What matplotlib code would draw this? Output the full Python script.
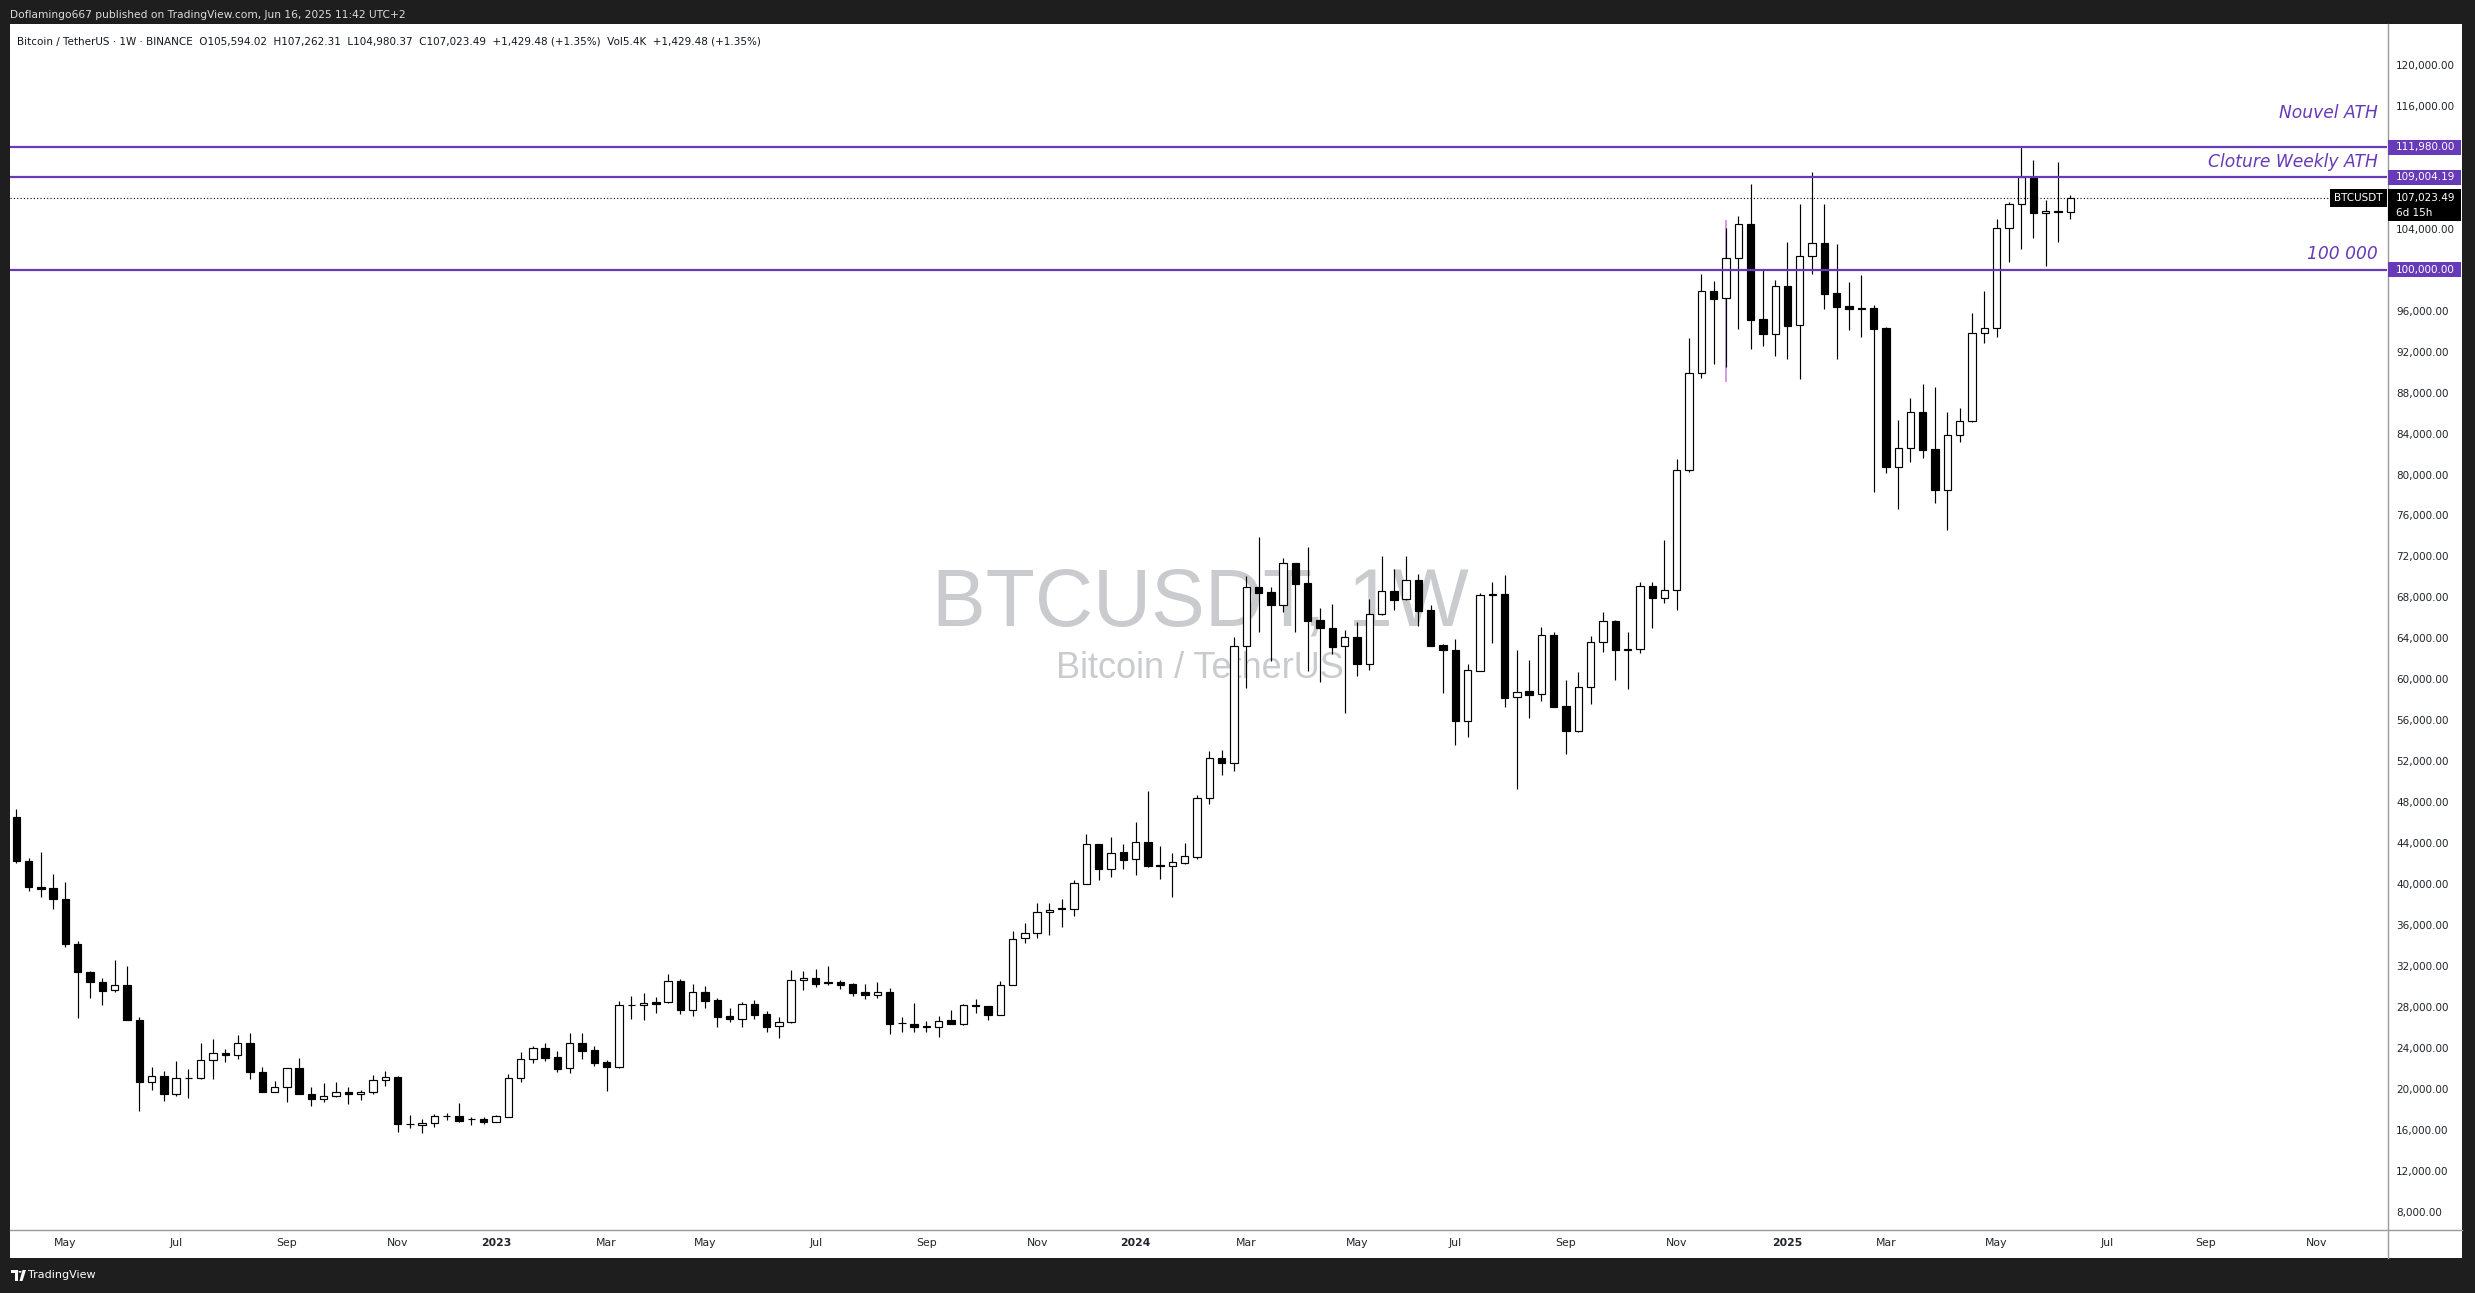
"""
BTCUSDT 1W - TradingView snapshot, Nouvel ATH / Cloture Weekly ATH / 100 000
"""
import numpy as np
import matplotlib
matplotlib.use("Agg")
import matplotlib.pyplot as plt
from matplotlib.patches import Rectangle, Polygon, Circle
from matplotlib.lines import Line2D

W, H = 2475, 1293
DARK = "#1e1e1e"
PURPLE = "#673ab7"
TEXT = "#131722"

# weekly bars, bar 0 = week of 2022-04-04
first_week = "2022-04-04"

opens = [
    46520, 42288, 39749, 39586, 38578, 34183, 31449, 30473, 29627, 30115,
    26762, 20707, 21261, 19471, 21050, 21034, 22791, 23475, 23345, 24451,
    21684, 19731, 20154, 22043, 19536, 18983, 19276, 19666, 19471, 19731,
    20837, 21164, 16560, 16450, 16639, 17322, 17322, 17040, 17062, 16801,
    17289, 21032, 22888, 23962, 23083, 22009, 24450, 23800, 22628, 22172,
    28161, 28161, 28487, 28454, 30505, 27738, 29431, 28650, 27087, 26859,
    28259, 27283, 26110, 26501, 30602, 30798, 30376, 30408, 30213, 29431,
    29203, 29431, 26405, 26307, 26079, 26014, 26698, 26372, 28162, 28065,
    27250, 30115, 34705, 35193, 37243, 37602, 37602, 40042, 43884, 41508,
    43103, 42419, 44079, 41768, 41736, 42093, 42679, 48376, 52282, 51795,
    63220, 68981, 68494, 67289, 71325, 69372, 65759, 64977, 63220, 64099,
    61527, 66345, 68591, 67810, 69665, 66768, 63318, 62829, 55961, 60844,
    68266, 68298, 58240, 58826, 58533, 64294, 57361, 54985, 59217, 63611,
    65694, 62900, 62927, 69080, 67950, 68750, 80409, 89881, 97888, 97205,
    101111, 104431, 95154, 93689, 98377, 94569, 101306, 102608, 97725, 96456,
    96196, 96228, 94276, 80767, 82557, 86072, 82460, 78456, 83827, 85194,
    93787, 94276, 104040, 106384, 109004.19, 105570, 105733, 105594.02,
]
highs = [
    47334, 42516, 43135, 40987, 40205, 34444, 31500, 30798, 32556, 32003,
    27055, 22140, 21750, 22726, 21945, 24483, 24874, 23898, 25265, 25460,
    22140, 20772, 22050, 23019, 20186, 20544, 20675, 20186, 19894, 21359,
    21750, 21261, 17453, 17062, 17582, 17680, 18624, 17257, 17224, 17420,
    21423, 23572, 24158, 24450, 23702, 25427, 25427, 24190, 22790, 28552,
    29072, 29366, 28975, 31221, 30700, 30245, 30049, 28877, 27868, 28487,
    28682, 27608, 27022, 31612, 31481, 31709, 32003, 30636, 30343, 30245,
    30408, 29822, 27023, 28390, 26632, 27120, 27706, 28260, 28781, 28130,
    30506, 35420, 36201, 38154, 38154, 38544, 40367, 44893, 43949, 44567,
    43884, 46065, 49092, 43688, 43037, 44014, 48701, 53000, 53097, 64131,
    70088, 73864, 68981, 71813, 71400, 72887, 66931, 67354, 64815, 65564,
    67842, 72041, 70739, 72041, 70251, 67289, 63415, 63936, 61462, 68396,
    69503, 70186, 62862, 61886, 65075, 64587, 59932, 60681, 64229, 66573,
    65750, 64620, 69503, 69500, 73620, 81516, 93299, 99581, 98897, 104073,
    105245, 108369, 99972, 98995, 102706, 106417, 109541, 106417, 102511, 98800,
    99483, 96521, 94373, 85324, 87440, 88807, 88514, 86072, 86462, 95740,
    97888, 104952, 106612, 111980, 110680, 106774, 110485, 107262.31,
]
lows = [
    42093, 39359, 38773, 37601, 33890, 26958, 28910, 28227, 29496, 26700,
    17876, 19927, 18853, 19341, 19146, 21000, 21001, 22661, 22954, 21001,
    19700, 19700, 18755, 19500, 18364, 18755, 19250, 18494, 18950, 19471,
    20316, 15826, 16151, 15728, 16313, 16964, 16769, 16508, 16606, 16790,
    17250, 20707, 22563, 22758, 21684, 21586, 22953, 22270, 19828, 22075,
    26827, 26729, 27445, 28400, 27348, 27152, 27933, 26078, 26566, 26078,
    26794, 25590, 25004, 26450, 29691, 29984, 30179, 29789, 29073, 28780,
    28910, 25363, 25591, 25591, 25591, 25103, 26350, 26274, 27446, 26763,
    27200, 30100, 34282, 34770, 35063, 35843, 36918, 40000, 40433, 40726,
    41508, 40922, 41703, 40531, 38774, 41996, 42484, 47855, 50656, 51079,
    59184, 64652, 61820, 66540, 64652, 60843, 59769, 62504, 56743, 60355,
    60941, 66247, 66801, 67750, 65238, 63250, 58631, 53617, 54399, 60778,
    63578, 57328, 49256, 56255, 57914, 57300, 52739, 54888, 57621, 62699,
    59932, 59087, 62601, 65050, 67450, 66800, 80279, 89458, 90825, 90532,
    94243, 92290, 92583, 91606, 91313, 89360, 99613, 96196, 91313, 94145,
    93462, 78326, 80116, 76666, 81255, 81646, 77252, 74582, 83208, 85150,
    92876, 93462, 100785, 102055, 103129, 100395, 102739, 104980.37,
]
closes = [
    42288, 39749, 39554, 38578, 34183, 31449, 30473, 29594, 30115, 26762,
    20707, 21261, 19471, 21066, 21034, 22791, 23475, 23345, 24451, 21684,
    19731, 20154, 22010, 19536, 18983, 19276, 19666, 19471, 19731, 20837,
    21131, 16542, 16575, 16673, 17322, 17354, 16866, 17029, 16801, 17322,
    21032, 22888, 23962, 23051, 21976, 24450, 23735, 22563, 22172, 28161,
    28150, 28357, 28324, 30505, 27738, 29431, 28617, 27054, 26859, 28259,
    27250, 26078, 26501, 30602, 30798, 30277, 30360, 30180, 29398, 29203,
    29431, 26372, 26390, 26079, 26070, 26665, 26372, 28162, 28130, 27250,
    30115, 34672, 35193, 37243, 37504, 37590, 40075, 43884, 41508, 43070,
    42386, 44079, 41768, 41760, 42126, 42712, 48376, 52282, 51795, 63220,
    68981, 68461, 67289, 71325, 69340, 65726, 64977, 63187, 64099, 61527,
    66345, 68591, 67777, 69665, 66703, 63285, 62829, 55961, 60876, 68200,
    68250, 58207, 58793, 58500, 64294, 57328, 54985, 59217, 63611, 65661,
    62862, 62927, 69080, 67950, 68750, 80409, 89881, 97888, 97172, 101111,
    104431, 95122, 93689, 98377, 94536, 101306, 102576, 97660, 96391, 96130,
    96163, 94243, 80767, 82557, 86072, 82427, 78456, 83827, 85194, 93787,
    94276, 104040, 106384, 109004.19, 105570, 105700, 105594.02, 107023.49,
]

# horizontal levels drawn on the chart
levels = [111980.00, 109004.19, 100000.00]
level_notes = ["Nouvel ATH", "Cloture Weekly ATH", "100 000"]
last_close = 107023.49
marker_bar = 139            # short light purple vertical mark
marker_range = (89060, 104850)

month_names = ["Jan", "Feb", "Mar", "Apr", "May", "Jun",
               "Jul", "Aug", "Sep", "Oct", "Nov", "Dec"]

header = ("Bitcoin / TetherUS \u00b7 1W \u00b7 BINANCE  O105,594.02  H107,262.31  "
          "L104,980.37  C107,023.49  +1,429.48 (+1.35%)  Vol5.4K  +1,429.48 (+1.35%)")
publisher = "Doflamingo667 published on TradingView.com, Jun 16, 2025 11:42 UTC+2"


def fx(x):
    return x / W


def fy(y):
    return 1 - y / H


fig = plt.figure(figsize=(W / 100, H / 100), dpi=100, facecolor=DARK)

# white panel behind chart + scales
fig.patches.append(Rectangle((fx(10), fy(1258)), fx(2462) - fx(10), fy(24) - fy(1258),
                             transform=fig.transFigure, facecolor="white",
                             edgecolor="none", zorder=-2))

ax = fig.add_axes([fx(10), fy(1230), fx(2387) - fx(10), fy(24) - fy(1230)])
ax.set_facecolor("white")
ax.set_xlim(-0.51, 192.74)
ax.set_ylim(6221, 123994)
for s in ax.spines.values():
    s.set_visible(False)

o = np.array(opens, dtype=float)
h = np.array(highs, dtype=float)
l = np.array(lows, dtype=float)
c = np.array(closes, dtype=float)
idx = np.arange(len(c))
up = c >= o

# watermark
ax.text(0.5006, 0.5185, "BTCUSDT, 1W", transform=ax.transAxes, ha="center", va="center",
        fontsize=58, color="#cacbcf", family="Liberation Sans", zorder=0)
ax.text(0.5006, 0.4655, "Bitcoin / TetherUS", transform=ax.transAxes, ha="center", va="center",
        fontsize=26, color="#cacbcf", family="Liberation Sans", zorder=0)

# light purple vertical mark
ax.vlines(marker_bar, marker_range[0], marker_range[1], color="#d39be0", lw=1.4, zorder=1)

# candles
ax.vlines(idx, l, h, color="black", lw=0.85, zorder=3)
body_lo = np.minimum(o, c)
body_h = np.maximum(np.abs(c - o), 60)
ax.bar(idx, body_h, bottom=body_lo, width=0.6,
       color=np.where(up, "white", "black"), edgecolor="black", lw=0.85, zorder=4)

# levels + notes
for lev, note, off in zip(levels, level_notes, [24.5, 11.5, 11.5]):
    ax.axhline(lev, color=PURPLE, lw=1.6, zorder=5)
    ax.annotate(note, xy=(0.9961, lev), xycoords=ax.get_yaxis_transform(),
                xytext=(0, off), textcoords="offset points", ha="right", va="center",
                fontsize=12.3, style="italic", color=PURPLE, zorder=6)

ax.axhline(last_close, color="black", lw=0.8, ls=(0, (1, 2)), zorder=5)

# price scale
yt = [v for v in range(8000, 124000, 4000) if v not in (100000, 108000, 112000)]
ax.yaxis.tick_right()
ax.set_yticks(yt)
ax.set_yticklabels([f"{v:,.2f}" for v in yt])
ax.tick_params(axis="y", length=0, pad=6.5, labelsize=7.5, labelcolor="#20232b")

# time scale: first bar of every odd month, January shown as the year
dates = np.datetime64(first_week) + 7 * np.arange(194)
months = dates.astype("datetime64[M]")
xt, xl = [], []
for i in range(1, len(dates)):
    if months[i] != months[i - 1]:
        m = months[i].astype(int) % 12
        if m % 2 == 0:
            xt.append(i)
            xl.append(str(months[i])[:4] if m == 0 else month_names[m])
ax.set_xticks(xt)
ax.set_xticklabels(xl)
ax.tick_params(axis="x", length=0, pad=6.0, labelsize=7.8, labelcolor="#20232b")
for t in ax.get_xticklabels():
    if t.get_text().isdigit():
        t.set_fontweight("bold")

# scale borders
fig.lines.append(Line2D([fx(10), fx(2462)], [fy(1230), fy(1230)], transform=fig.transFigure,
                        color="#9a9a9a", lw=1.0))
fig.lines.append(Line2D([fx(2387.5), fx(2387.5)], [fy(24), fy(1258)], transform=fig.transFigure,
                        color="#9a9a9a", lw=1.0))


def ypx(price):
    return H - ax.transData.transform((0, price))[1]


def fig_box(x0, y0, x1, y1, color):
    fig.patches.append(Rectangle((fx(x0), fy(y1)), fx(x1) - fx(x0), fy(y0) - fy(y1),
                                 transform=fig.transFigure, facecolor=color,
                                 edgecolor="none", zorder=5))


for lev in levels:
    yc = ypx(lev)
    fig_box(2388, yc - 7.5, 2461, yc + 7.5, PURPLE)
    fig.text(fx(2396), fy(yc), f"{lev:,.2f}", color="white", fontsize=7.5,
             ha="left", va="center", zorder=6)

yc = ypx(last_close)
fig_box(2388, yc - 8.5, 2461, yc + 23.5, "black")
fig.text(fx(2396), fy(yc), f"{last_close:,.2f}", color="white", fontsize=7.5,
         ha="left", va="center", zorder=6)
fig.text(fx(2396), fy(yc + 15), "6d 15h", color="white", fontsize=7.5,
         ha="left", va="center", zorder=6)
fig_box(2330, yc - 8.5, 2387, yc + 9.5, "black")
fig.text(fx(2358.5), fy(yc + 0.5), "BTCUSDT", color="white", fontsize=7.5,
         ha="center", va="center", zorder=6)

# header texts
fig.text(fx(10), fy(14.5), publisher, color="#dcdcdc", fontsize=7.7, ha="left", va="center")
fig.text(fx(17), fy(41), header, color=TEXT, fontsize=7.5, ha="left", va="center", zorder=6)

# TradingView logo
fig.patches.append(Polygon([(fx(11), fy(1270)), (fx(18), fy(1270)), (fx(18), fy(1281)),
                            (fx(15), fy(1281)), (fx(15), fy(1273)), (fx(11), fy(1273))],
                           closed=True, transform=fig.transFigure, facecolor="white",
                           edgecolor="none"))
fig.patches.append(Circle((fx(20), fy(1271.8)), 1.6 / W, transform=fig.transFigure,
                          facecolor="white", edgecolor="none"))
fig.patches.append(Polygon([(fx(22.5), fy(1270)), (fx(26), fy(1270)), (fx(22.5), fy(1281)),
                            (fx(19.5), fy(1281))],
                           closed=True, transform=fig.transFigure, facecolor="white",
                           edgecolor="none"))
fig.text(fx(28), fy(1275.5), "TradingView", color="white", fontsize=8, ha="left", va="center")

fig.savefig("out.png", dpi=100, facecolor=DARK)
